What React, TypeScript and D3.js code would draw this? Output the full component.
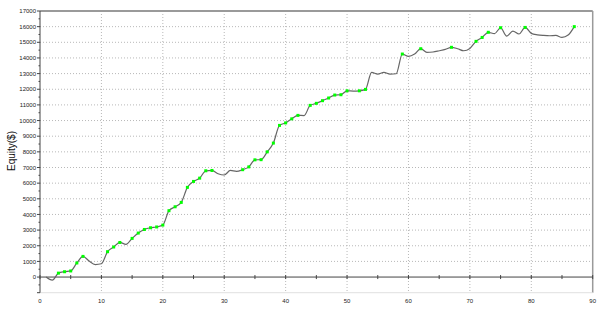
import React from "react";
import * as d3 from "d3";

const tradeIndex: number[] = Array.from({ length: 87 }, (_, i) => i + 1);
const equity: number[] = [
  0, -200, 250, 340, 390, 900, 1320, 1020, 800, 850,
  1620, 1920, 2210, 2090, 2470, 2810, 3040, 3150, 3200, 3320,
  4240, 4490, 4770, 5730, 6110, 6320, 6790, 6810, 6600, 6520,
  6810, 6750, 6860, 7040, 7490, 7500, 8000, 8560, 9690, 9850,
  10110, 10330, 10320, 10970, 11100, 11270, 11440, 11630, 11650, 11900,
  11880, 11900, 11990, 13080, 12970, 13080, 12970, 12990, 14250, 14100,
  14250, 14590, 14360, 14380, 14460, 14550, 14680, 14590, 14460, 14610,
  15060, 15310, 15640, 15550, 15930, 15400, 15720, 15530, 15950, 15570,
  15480, 15440, 15420, 15440, 15310, 15460, 16000,
];
const markedTrades: number[] = [
  3, 4, 5, 6, 7, 11, 12, 13, 15, 16, 17, 18, 19, 20, 21, 22, 23, 24, 25, 26, 27, 28,
  33, 34, 35, 36, 37, 38, 39, 40, 41, 42, 44, 45, 46, 47, 48, 49, 50, 52, 53, 59,
  62, 67, 71, 72, 73, 75, 79, 87,
];
const xTicks: number[] = [0, 10, 20, 30, 40, 50, 60, 70, 80, 90];
const xMinorTicks: number[] = [5, 15, 25, 35, 45, 55, 65, 75, 85];
const yTicks: number[] = d3.range(0, 17001, 1000);
const yGrid: number[] = d3.range(1000, 16001, 1000);
const yMinorTicks: number[] = d3.range(-500, 17000, 1000);
const yLabel = "Equity($)";

export default function App() {
  const W = 600, H = 309;
  const left = 40, right = 592.7, top = 11, bottom = 292.7;
  const x = d3.scaleLinear().domain([0, 90]).range([left, right]);
  const y = d3.scaleLinear().domain([-1000, 17000]).range([bottom, top]);
  const line = d3
    .line<number>()
    .x((_, i) => x(tradeIndex[i]))
    .y((d) => y(d))
    .curve(d3.curveMonotoneX);
  const font = "Arial, 'Liberation Sans', sans-serif";
  return (
    <svg
      width={W}
      height={H}
      style={{ position: "absolute", left: 0, top: 0, background: "#fff" }}
    >
      {/* grid */}
      {yGrid.map((v) => (
        <line key={"gy" + v} x1={left} x2={right} y1={y(v)} y2={y(v)}
          stroke="#b8b8b8" strokeWidth={1} strokeDasharray="1,2" />
      ))}
      {xTicks.slice(1, -1).map((v) => (
        <line key={"gx" + v} x1={x(v)} x2={x(v)} y1={top} y2={bottom}
          stroke="#b8b8b8" strokeWidth={1} strokeDasharray="1,2" />
      ))}
      {/* frame */}
      <line x1={left} x2={right} y1={top} y2={top} stroke="#9a9a9a" strokeWidth={2} />
      <line x1={right} x2={right} y1={top} y2={bottom} stroke="#9a9a9a" strokeWidth={1.5} />
      <line x1={left} x2={right} y1={bottom} y2={bottom} stroke="#e0e0e0" strokeWidth={1} />
      {/* zero axis */}
      <line x1={left} x2={right} y1={y(0)} y2={y(0)} stroke="#444" strokeWidth={1} />
      {xTicks.concat(xMinorTicks).map((v) => (
        <line key={"xt" + v} x1={x(v)} x2={x(v)} y1={y(0) - 2} y2={y(0) + 2}
          stroke="#444" strokeWidth={1} />
      ))}
      {/* y axis */}
      <line x1={left} x2={left} y1={top} y2={bottom} stroke="#444" strokeWidth={1} />
      {yTicks.concat([-1000]).map((v) => (
        <line key={"yt" + v} x1={left - 3} x2={left} y1={y(v)} y2={y(v)} stroke="#444" strokeWidth={1} />
      ))}
      {yMinorTicks.map((v) => (
        <line key={"ym" + v} x1={left - 1.5} x2={left} y1={y(v)} y2={y(v)} stroke="#444" strokeWidth={1} />
      ))}
      {yTicks.map((v) => (
        <text key={"yl" + v} x={left - 4} y={y(v)} dy="0.35em" textAnchor="end"
          fontFamily={font} fontSize={6} fill="#222">
          {v}
        </text>
      ))}
      {xTicks.map((v) => (
        <text key={"xl" + v} x={x(v)} y={301} dy="0.35em" textAnchor="middle"
          fontFamily={font} fontSize={6} fill="#222">
          {v}
        </text>
      ))}
      <text transform={`translate(11,151) rotate(-90)`} textAnchor="middle" dy="0.35em"
        fontFamily={font} fontSize={10} fill="#111">
        {yLabel}
      </text>
      {/* equity line */}
      <path d={line(equity) || ""} fill="none" stroke="#666" strokeWidth={1.2} />
      {markedTrades.map((t) => (
        <rect key={"m" + t} x={x(t) - 1.5} y={y(equity[t - 1]) - 1.5} width={3} height={3} fill="#00ff00" />
      ))}
    </svg>
  );
}
